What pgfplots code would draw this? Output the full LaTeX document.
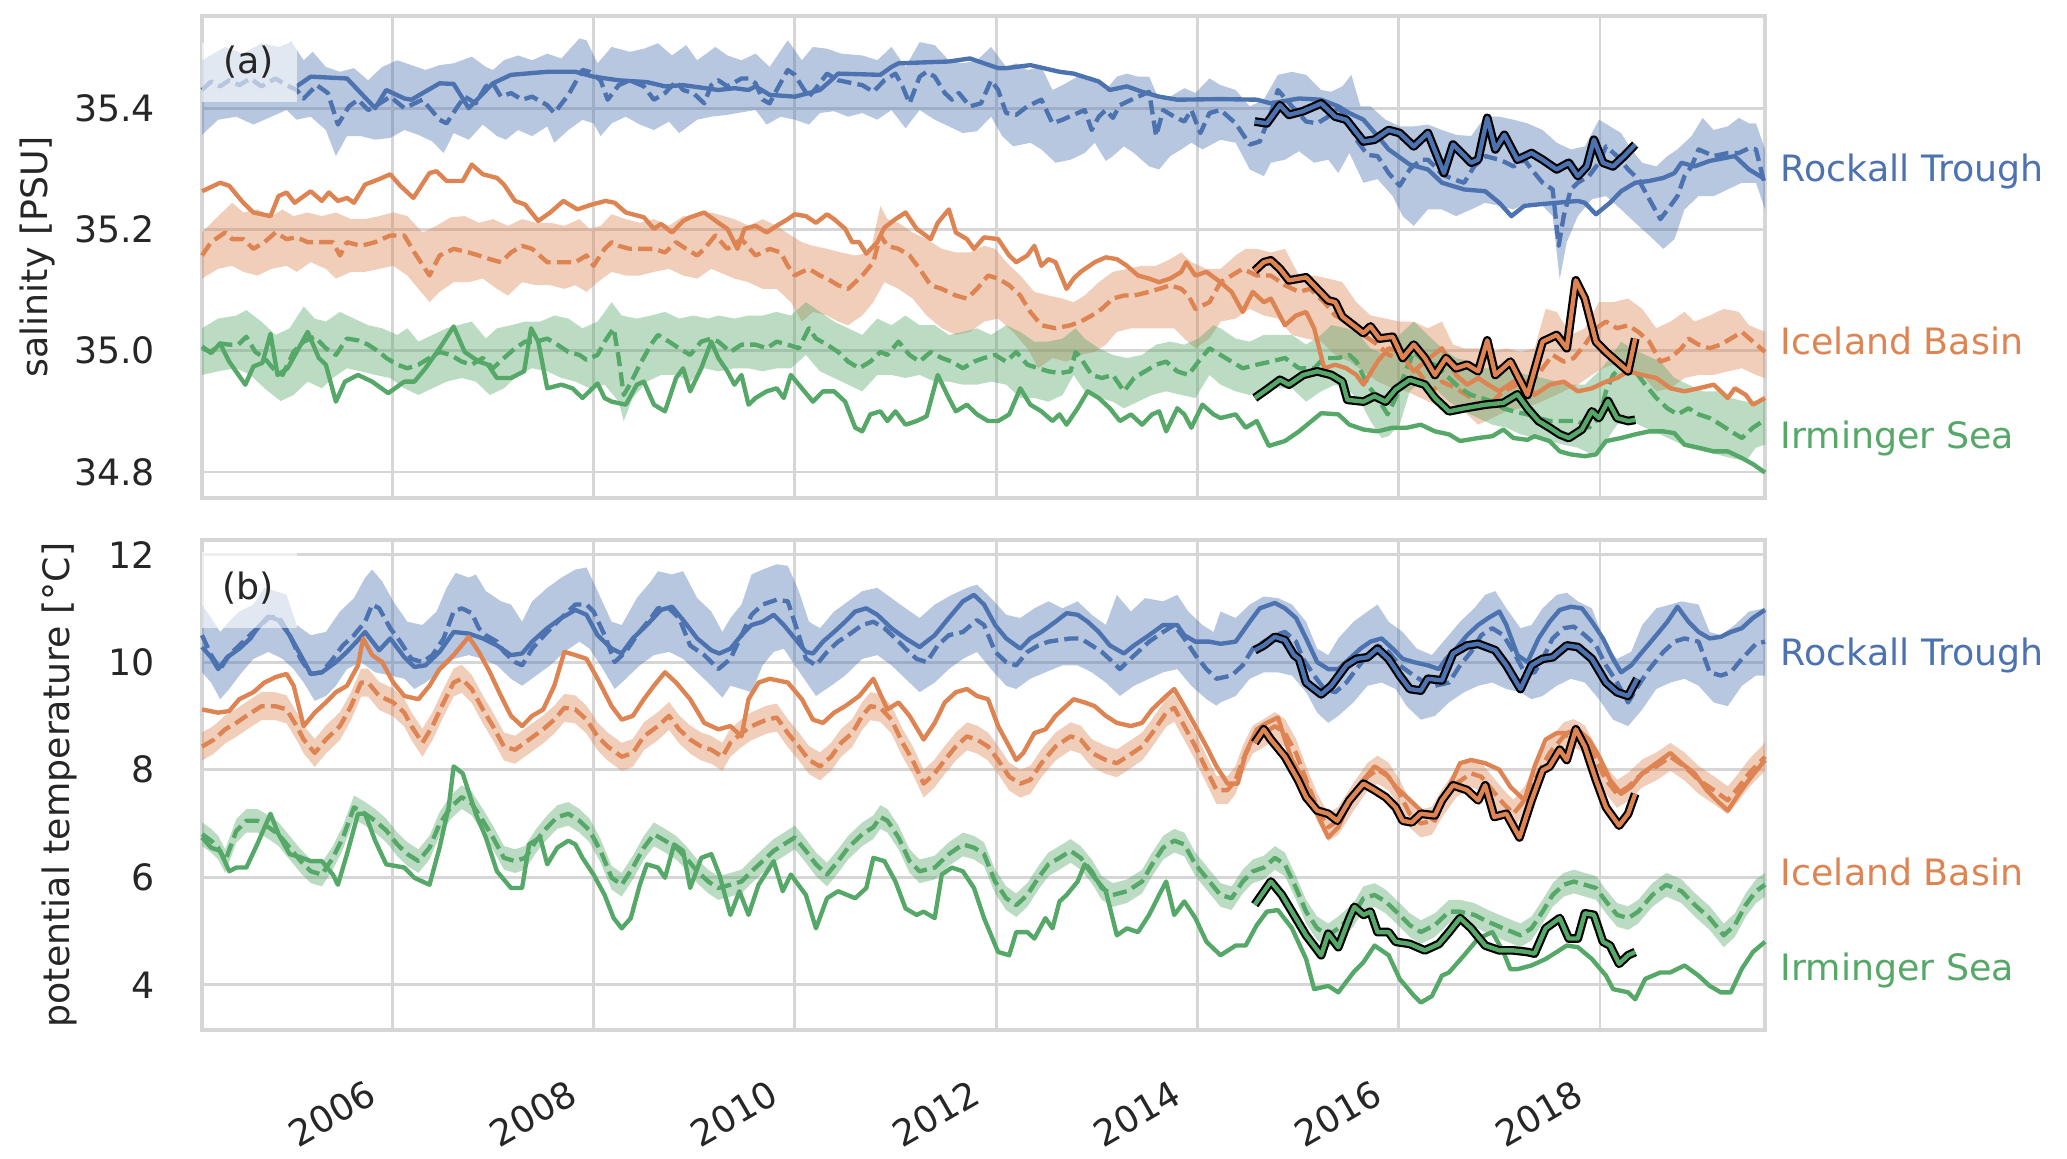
\documentclass[border=0pt]{standalone}
\usepackage{fontspec}
\setmainfont{DejaVu Sans}
\usepackage{pgfplots}
\usepackage{pgfplotstable}
\pgfplotsset{compat=1.18}

\definecolor{cb}{HTML}{4C72B0}
\definecolor{co}{HTML}{DD8452}
\definecolor{cg}{HTML}{55A868}
\definecolor{gridc}{HTML}{D6D6D6}
\definecolor{txt}{HTML}{262626}

% black-outlined segments (2014.6-2018.4)
\pgfplotstableread{
x y
2014.57 35.378
2014.69 35.375
2014.82 35.405
2014.91 35.389
2015.05 35.395
2015.23 35.408
2015.37 35.386
2015.48 35.381
2015.65 35.345
2015.76 35.348
2015.90 35.364
2016.01 35.359
2016.15 35.337
2016.29 35.359
2016.45 35.293
2016.54 35.340
2016.72 35.310
2016.79 35.315
2016.88 35.384
2016.96 35.332
2017.05 35.356
2017.18 35.315
2017.32 35.326
2017.43 35.315
2017.57 35.299
2017.69 35.310
2017.78 35.288
2017.87 35.304
2017.94 35.348
2018.03 35.310
2018.13 35.304
2018.24 35.321
2018.35 35.340
}\rtSblack
\pgfplotstableread{
x y
2014.57 35.132
2014.66 35.146
2014.73 35.149
2014.82 35.135
2014.91 35.116
2015.08 35.121
2015.19 35.102
2015.30 35.083
2015.37 35.080
2015.44 35.056
2015.55 35.042
2015.65 35.029
2015.72 35.040
2015.81 35.020
2015.94 35.023
2016.04 34.988
2016.15 35.010
2016.26 34.988
2016.36 34.960
2016.47 34.988
2016.57 34.971
2016.68 34.977
2016.79 34.966
2016.88 35.017
2016.96 34.960
2017.11 34.982
2017.28 34.927
2017.43 35.015
2017.57 35.026
2017.67 35.004
2017.76 35.116
2017.85 35.086
2017.96 35.015
2018.06 34.998
2018.17 34.982
2018.28 34.966
2018.35 35.020
}\ibSblack
\pgfplotstableread{
x y
2014.57 34.922
2014.69 34.936
2014.82 34.952
2014.91 34.944
2015.05 34.960
2015.19 34.966
2015.33 34.960
2015.44 34.949
2015.49 34.919
2015.65 34.916
2015.76 34.925
2015.87 34.916
2015.97 34.936
2016.11 34.952
2016.26 34.944
2016.36 34.922
2016.50 34.900
2016.65 34.905
2016.86 34.911
2017.04 34.914
2017.18 34.928
2017.28 34.905
2017.39 34.884
2017.50 34.873
2017.60 34.862
2017.69 34.856
2017.82 34.870
2017.92 34.900
2017.99 34.889
2018.08 34.917
2018.17 34.889
2018.28 34.884
2018.35 34.886
}\isSblack
\pgfplotstableread{
x y
2014.57 10.22
2014.66 10.31
2014.77 10.47
2014.87 10.41
2014.96 10.13
2015.01 10.06
2015.08 9.62
2015.23 9.40
2015.33 9.56
2015.48 9.94
2015.58 10.06
2015.69 10.09
2015.79 10.25
2015.90 10.06
2016.01 9.75
2016.11 9.50
2016.22 9.47
2016.29 9.69
2016.43 9.66
2016.54 10.16
2016.68 10.31
2016.79 10.34
2016.96 10.22
2017.07 9.94
2017.21 9.50
2017.32 9.94
2017.43 10.06
2017.53 10.09
2017.67 10.31
2017.78 10.28
2017.92 10.06
2018.06 9.62
2018.17 9.44
2018.28 9.37
2018.37 9.69
}\rtTblack
\pgfplotstableread{
x y
2014.57 8.50
2014.66 8.75
2014.73 8.56
2014.87 8.24
2015.00 7.81
2015.08 7.49
2015.19 7.24
2015.30 7.18
2015.39 7.05
2015.51 7.43
2015.65 7.74
2015.76 7.62
2015.87 7.49
2015.97 7.30
2016.04 7.05
2016.13 7.02
2016.22 7.18
2016.36 7.15
2016.43 7.43
2016.54 7.71
2016.68 7.62
2016.79 7.43
2016.86 7.71
2016.95 7.12
2017.07 7.18
2017.20 6.74
2017.32 7.43
2017.43 7.99
2017.50 8.06
2017.60 8.37
2017.67 8.18
2017.76 8.75
2017.85 8.43
2017.96 7.81
2018.06 7.30
2018.19 6.96
2018.28 7.18
2018.35 7.55
}\ibTblack
\pgfplotstableread{
x y
2014.57 5.49
2014.73 5.92
2014.84 5.67
2014.94 5.36
2015.08 4.92
2015.23 4.55
2015.30 4.95
2015.40 4.70
2015.51 5.24
2015.56 5.45
2015.65 5.30
2015.72 5.36
2015.79 4.98
2015.90 4.98
2015.97 4.80
2016.11 4.76
2016.26 4.64
2016.40 4.76
2016.50 4.98
2016.61 5.24
2016.72 5.05
2016.86 4.73
2017.00 4.64
2017.14 4.64
2017.28 4.61
2017.35 4.58
2017.46 5.05
2017.60 5.24
2017.69 4.86
2017.78 4.86
2017.85 5.33
2017.94 5.30
2018.03 4.80
2018.10 4.73
2018.19 4.39
2018.28 4.55
2018.35 4.61
}\isTblack

\pgfplotsset{
  panel/.style={
    scale only axis, width=15.123cm, anchor=south west,
    xmin=2004.11, xmax=2019.64,
    axis line style={gridc, line width=1.2pt},
    grid=major, major grid style={gridc, line width=0.8pt},
    major tick length=0pt, tick style={draw=none},
    xtick={2006,2008,...,2018},
    tick label style={font=\fontsize{10}{12}\selectfont, text=txt},
    yticklabel style={xshift=-0.33cm},
    /pgf/number format/assume math mode=true,
    /pgf/number format/1000 sep={},
    clip=false,
  },
  sol/.style={line width=1.2pt, line join=round},
  das/.style={line width=1.2pt, line join=round, dash pattern=on 3.9pt off 1.7pt},
  blk/.style={black, line width=2.4pt, line join=round},
  band/.style={draw=none, fill opacity=0.4},
}
\tikzset{side/.style={anchor=west, font=\fontsize{10}{12}\selectfont, xshift=0.03cm},
  lab/.style={rotate=90, text=txt, font=\fontsize{10}{12}\selectfont}}

\begin{document}
\begin{tikzpicture}
\useasboundingbox (0,0) rectangle (20cm,11.214cm);

% ---------------- (a) salinity ----------------
\begin{axis}[panel, at={(1.955cm,6.395cm)}, height=4.664cm,
  ymin=34.757, ymax=35.552, ytick={34.8,35.0,35.2,35.4},
  yticklabel style={/pgf/number format/.cd, fixed, fixed zerofill, precision=1},
  xticklabels={}]

% bands: upper edge left to right, then lower edge right to left
\addplot[band, fill=cb] coordinates {(2004.11,35.479) (2004.34,35.501) (2004.52,35.490) (2004.70,35.507) (2004.87,35.501) (2005.00,35.509) (2005.12,35.479) (2005.21,35.493) (2005.34,35.468) (2005.48,35.460) (2005.62,35.466) (2005.76,35.446) (2005.90,35.468) (2006.05,35.479) (2006.19,35.471) (2006.33,35.463) (2006.47,35.471) (2006.61,35.474) (2006.79,35.485) (2006.93,35.468) (2007.00,35.463) (2007.11,35.479) (2007.25,35.487) (2007.39,35.479) (2007.54,35.490) (2007.68,35.482) (2007.86,35.515) (2007.93,35.512) (2008.04,35.474) (2008.18,35.501) (2008.36,35.493) (2008.50,35.498) (2008.64,35.507) (2008.78,35.487) (2008.92,35.504) (2009.03,35.479) (2009.21,35.501) (2009.33,35.487) (2009.47,35.479) (2009.61,35.490) (2009.75,35.468) (2009.93,35.512) (2010.07,35.479) (2010.18,35.501) (2010.32,35.498) (2010.46,35.490) (2010.67,35.487) (2010.82,35.479) (2010.96,35.501) (2011.10,35.468) (2011.24,35.509) (2011.39,35.504) (2011.53,35.479) (2011.67,35.474) (2011.81,35.479) (2011.95,35.501) (2012.10,35.468) (2012.20,35.474) (2012.31,35.463) (2012.45,35.468) (2012.56,35.430) (2012.66,35.438) (2012.81,35.452) (2012.95,35.452) (2013.09,35.430) (2013.20,35.452) (2013.30,35.457) (2013.41,35.452) (2013.52,35.452) (2013.62,35.414) (2013.73,35.419) (2013.87,35.433) (2013.98,35.425) (2014.12,35.449) (2014.23,35.438) (2014.38,35.430) (2014.52,35.403) (2014.66,35.414) (2014.80,35.455) (2014.94,35.460) (2015.08,35.455) (2015.23,35.430) (2015.33,35.427) (2015.44,35.436) (2015.53,35.455) (2015.62,35.403) (2015.72,35.403) (2015.87,35.381) (2016.01,35.370) (2016.15,35.370) (2016.29,35.373) (2016.43,35.364) (2016.57,35.356) (2016.72,35.354) (2016.86,35.386) (2017.00,35.386) (2017.14,35.381) (2017.28,35.375) (2017.43,35.364) (2017.57,35.343) (2017.71,35.332) (2017.85,35.337) (2017.99,35.381) (2018.10,35.370) (2018.21,35.359) (2018.31,35.332) (2018.42,35.310) (2018.56,35.304) (2018.67,35.321) (2018.77,35.332) (2018.91,35.354) (2019.02,35.384) (2019.13,35.364) (2019.27,35.370) (2019.38,35.384) (2019.48,35.375) (2019.55,35.375) (2019.64,35.332)
 (2019.64,35.233) (2019.55,35.277) (2019.41,35.277) (2019.27,35.266) (2019.13,35.255) (2018.98,35.255) (2018.84,35.233) (2018.74,35.184) (2018.63,35.168) (2018.49,35.190) (2018.35,35.211) (2018.21,35.233) (2018.06,35.255) (2017.92,35.250) (2017.78,35.222) (2017.67,35.179) (2017.60,35.118) (2017.53,35.222) (2017.43,35.239) (2017.28,35.244) (2017.14,35.233) (2017.00,35.239) (2016.86,35.244) (2016.72,35.233) (2016.57,35.222) (2016.43,35.233) (2016.29,35.233) (2016.15,35.206) (2016.04,35.222) (2015.94,35.255) (2015.79,35.283) (2015.65,35.277) (2015.51,35.326) (2015.40,35.293) (2015.30,35.315) (2015.16,35.310) (2015.01,35.329) (2014.87,35.315) (2014.73,35.310) (2014.66,35.288) (2014.52,35.299) (2014.38,35.343) (2014.23,35.348) (2014.05,35.332) (2013.94,35.343) (2013.84,35.332) (2013.73,35.321) (2013.62,35.299) (2013.52,35.304) (2013.37,35.326) (2013.27,35.337) (2013.16,35.321) (2013.09,35.313) (2012.98,35.343) (2012.88,35.326) (2012.74,35.315) (2012.59,35.310) (2012.45,35.332) (2012.34,35.343) (2012.17,35.337) (2012.06,35.354) (2011.95,35.386) (2011.81,35.362) (2011.67,35.359) (2011.53,35.370) (2011.39,35.381) (2011.24,35.397) (2011.10,35.367) (2010.96,35.397) (2010.82,35.381) (2010.67,35.392) (2010.53,35.386) (2010.39,35.395) (2010.25,35.392) (2010.14,35.373) (2010.00,35.381) (2009.86,35.386) (2009.72,35.373) (2009.61,35.397) (2009.43,35.392) (2009.33,35.389) (2009.17,35.386) (2009.03,35.381) (2008.85,35.359) (2008.75,35.378) (2008.60,35.364) (2008.46,35.373) (2008.32,35.386) (2008.18,35.375) (2008.07,35.354) (2008.00,35.375) (2007.89,35.381) (2007.75,35.364) (2007.61,35.343) (2007.54,35.370) (2007.39,35.354) (2007.25,35.364) (2007.13,35.348) (2007.04,35.354) (2006.90,35.373) (2006.76,35.348) (2006.61,35.359) (2006.51,35.326) (2006.40,35.345) (2006.26,35.356) (2006.12,35.364) (2005.98,35.351) (2005.83,35.348) (2005.69,35.354) (2005.55,35.354) (2005.44,35.321) (2005.34,35.364) (2005.19,35.386) (2005.05,35.381) (2004.95,35.397) (2004.80,35.386) (2004.62,35.373) (2004.45,35.386) (2004.27,35.381) (2004.11,35.356)};
\addplot[band, fill=co] coordinates {(2004.11,35.195) (2004.27,35.222) (2004.41,35.244) (2004.52,35.228) (2004.66,35.233) (2004.80,35.222) (2004.91,35.233) (2005.02,35.222) (2005.16,35.228) (2005.30,35.222) (2005.44,35.228) (2005.59,35.217) (2005.73,35.217) (2005.87,35.222) (2006.01,35.228) (2006.15,35.222) (2006.30,35.195) (2006.44,35.206) (2006.58,35.220) (2006.72,35.222) (2006.86,35.211) (2007.00,35.217) (2007.15,35.206) (2007.29,35.217) (2007.43,35.211) (2007.57,35.211) (2007.71,35.206) (2007.86,35.217) (2007.96,35.201) (2008.07,35.206) (2008.18,35.225) (2008.32,35.217) (2008.46,35.211) (2008.60,35.217) (2008.75,35.206) (2008.89,35.222) (2009.03,35.222) (2009.17,35.228) (2009.40,35.217) (2009.54,35.206) (2009.68,35.217) (2009.82,35.206) (2009.96,35.190) (2010.07,35.179) (2010.18,35.173) (2010.32,35.168) (2010.46,35.162) (2010.60,35.157) (2010.75,35.162) (2010.85,35.239) (2010.92,35.217) (2011.03,35.211) (2011.17,35.195) (2011.31,35.184) (2011.46,35.168) (2011.60,35.162) (2011.74,35.162) (2011.88,35.173) (2011.99,35.168) (2012.10,35.146) (2012.24,35.124) (2012.38,35.097) (2012.52,35.091) (2012.66,35.086) (2012.77,35.080) (2012.88,35.091) (2013.02,35.113) (2013.16,35.130) (2013.30,35.135) (2013.45,35.140) (2013.59,35.140) (2013.73,35.151) (2013.84,35.162) (2013.94,35.146) (2014.09,35.135) (2014.23,35.135) (2014.38,35.157) (2014.48,35.168) (2014.59,35.168) (2014.73,35.162) (2014.87,35.168) (2015.01,35.124) (2015.16,35.124) (2015.30,35.119) (2015.44,35.113) (2015.58,35.080) (2015.72,35.058) (2015.87,35.053) (2016.01,35.048) (2016.15,35.048) (2016.29,35.037) (2016.43,35.048) (2016.54,35.010) (2016.65,35.004) (2016.79,35.004) (2016.93,34.998) (2017.07,35.004) (2017.21,34.998) (2017.35,35.004) (2017.46,35.069) (2017.57,35.064) (2017.71,35.026) (2017.85,35.037) (2017.99,35.080) (2018.13,35.080) (2018.28,35.086) (2018.42,35.069) (2018.56,35.037) (2018.70,35.048) (2018.84,35.064) (2018.94,35.048) (2019.09,35.058) (2019.23,35.069) (2019.38,35.064) (2019.48,35.042) (2019.64,35.031)
 (2019.64,34.955) (2019.55,34.960) (2019.41,34.971) (2019.27,34.966) (2019.13,34.960) (2018.98,34.960) (2018.84,34.955) (2018.70,34.938) (2018.56,34.933) (2018.42,34.960) (2018.28,34.971) (2018.13,34.977) (2018.03,34.971) (2017.92,34.960) (2017.78,34.944) (2017.64,34.933) (2017.50,34.922) (2017.35,34.911) (2017.21,34.905) (2017.07,34.900) (2016.93,34.889) (2016.79,34.878) (2016.65,34.900) (2016.50,34.905) (2016.36,34.911) (2016.22,34.922) (2016.08,34.933) (2015.94,34.938) (2015.79,34.949) (2015.65,34.966) (2015.51,34.982) (2015.37,34.993) (2015.23,35.015) (2015.08,35.020) (2014.94,35.026) (2014.80,35.053) (2014.66,35.058) (2014.52,35.069) (2014.38,35.053) (2014.23,35.048) (2014.12,35.020) (2013.98,35.004) (2013.87,35.020) (2013.77,35.037) (2013.62,35.037) (2013.48,35.037) (2013.34,35.037) (2013.20,35.031) (2013.09,35.010) (2012.98,34.998) (2012.84,34.993) (2012.70,34.982) (2012.56,34.988) (2012.42,34.971) (2012.31,35.004) (2012.17,35.031) (2012.02,35.053) (2011.88,35.048) (2011.74,35.031) (2011.60,35.026) (2011.46,35.037) (2011.31,35.058) (2011.17,35.086) (2011.03,35.102) (2010.89,35.113) (2010.78,35.080) (2010.67,35.058) (2010.53,35.042) (2010.43,35.048) (2010.32,35.058) (2010.18,35.064) (2010.07,35.048) (2009.96,35.080) (2009.82,35.102) (2009.68,35.102) (2009.54,35.113) (2009.40,35.119) (2009.17,35.135) (2009.03,35.119) (2008.89,35.124) (2008.75,35.135) (2008.60,35.130) (2008.46,35.124) (2008.32,35.124) (2008.18,35.130) (2008.04,35.113) (2007.93,35.097) (2007.82,35.108) (2007.71,35.102) (2007.57,35.108) (2007.43,35.108) (2007.29,35.113) (2007.15,35.091) (2007.04,35.102) (2006.90,35.119) (2006.76,35.113) (2006.61,35.113) (2006.47,35.097) (2006.37,35.080) (2006.26,35.102) (2006.15,35.124) (2006.01,35.140) (2005.87,35.135) (2005.73,35.130) (2005.59,35.130) (2005.44,35.119) (2005.34,35.135) (2005.19,35.146) (2005.05,35.130) (2004.95,35.140) (2004.80,35.135) (2004.66,35.124) (2004.52,35.130) (2004.41,35.140) (2004.27,35.135) (2004.11,35.119)};
\addplot[band, fill=cg] coordinates {(2004.11,35.037) (2004.27,35.053) (2004.45,35.058) (2004.55,35.067) (2004.70,35.048) (2004.84,35.026) (2004.98,35.037) (2005.12,35.073) (2005.23,35.053) (2005.34,35.048) (2005.48,35.064) (2005.62,35.053) (2005.76,35.042) (2005.90,35.037) (2006.05,35.026) (2006.15,35.037) (2006.26,35.015) (2006.40,35.026) (2006.54,35.037) (2006.65,35.042) (2006.79,35.048) (2006.93,35.020) (2007.04,35.037) (2007.18,35.042) (2007.32,35.048) (2007.47,35.048) (2007.61,35.058) (2007.75,35.053) (2007.89,35.037) (2008.04,35.048) (2008.18,35.080) (2008.28,35.058) (2008.43,35.053) (2008.57,35.058) (2008.71,35.064) (2008.85,35.053) (2008.99,35.058) (2009.14,35.053) (2009.24,35.058) (2009.40,35.053) (2009.54,35.058) (2009.68,35.058) (2009.82,35.064) (2009.96,35.058) (2010.11,35.080) (2010.25,35.064) (2010.39,35.048) (2010.53,35.037) (2010.67,35.026) (2010.82,35.053) (2010.96,35.042) (2011.10,35.058) (2011.24,35.042) (2011.39,35.042) (2011.53,35.026) (2011.67,35.031) (2011.81,35.037) (2011.95,35.026) (2012.10,35.042) (2012.24,35.031) (2012.38,35.015) (2012.52,35.015) (2012.66,35.020) (2012.79,35.037) (2012.88,35.020) (2013.02,35.004) (2013.16,34.993) (2013.30,34.988) (2013.45,34.993) (2013.59,35.010) (2013.73,35.015) (2013.87,35.010) (2014.01,35.020) (2014.16,35.042) (2014.23,35.037) (2014.38,35.020) (2014.52,35.015) (2014.66,35.026) (2014.80,35.026) (2014.94,35.026) (2015.08,35.010) (2015.23,35.026) (2015.33,35.042) (2015.48,35.037) (2015.58,35.031) (2015.72,35.004) (2015.87,34.993) (2016.01,35.026) (2016.15,35.048) (2016.29,35.026) (2016.43,35.004) (2016.57,34.988) (2016.72,34.982) (2016.86,34.971) (2017.00,34.971) (2017.14,34.966) (2017.28,34.960) (2017.43,34.955) (2017.57,34.949) (2017.71,34.944) (2017.85,34.944) (2017.99,34.966) (2018.10,34.988) (2018.21,35.015) (2018.31,35.004) (2018.45,34.993) (2018.60,34.982) (2018.74,34.955) (2018.88,34.944) (2019.02,34.933) (2019.16,34.933) (2019.30,34.922) (2019.45,34.916) (2019.55,34.916) (2019.64,34.922)
 (2019.64,34.845) (2019.55,34.840) (2019.45,34.818) (2019.30,34.823) (2019.16,34.829) (2019.02,34.834) (2018.88,34.840) (2018.74,34.851) (2018.60,34.862) (2018.45,34.873) (2018.31,34.884) (2018.17,34.878) (2018.06,34.851) (2017.92,34.829) (2017.78,34.840) (2017.64,34.845) (2017.50,34.851) (2017.35,34.856) (2017.21,34.862) (2017.07,34.873) (2016.93,34.878) (2016.79,34.889) (2016.65,34.900) (2016.50,34.916) (2016.36,34.938) (2016.22,34.949) (2016.11,34.933) (2016.01,34.878) (2015.90,34.859) (2015.83,34.856) (2015.72,34.884) (2015.62,34.916) (2015.51,34.933) (2015.37,34.944) (2015.23,34.933) (2015.08,34.916) (2014.94,34.938) (2014.80,34.938) (2014.66,34.938) (2014.52,34.927) (2014.38,34.933) (2014.23,34.944) (2014.12,34.960) (2013.98,34.922) (2013.84,34.927) (2013.69,34.933) (2013.55,34.927) (2013.41,34.916) (2013.27,34.905) (2013.16,34.916) (2013.02,34.922) (2012.88,34.933) (2012.77,34.960) (2012.66,34.927) (2012.52,34.916) (2012.38,34.922) (2012.24,34.922) (2012.10,34.944) (2011.95,34.949) (2011.81,34.944) (2011.67,34.944) (2011.53,34.949) (2011.39,34.949) (2011.24,34.960) (2011.10,34.955) (2010.96,34.960) (2010.82,34.960) (2010.67,34.933) (2010.53,34.944) (2010.39,34.955) (2010.25,34.966) (2010.11,34.993) (2009.96,34.971) (2009.82,34.971) (2009.68,34.966) (2009.54,34.971) (2009.40,34.971) (2009.24,34.966) (2009.10,34.971) (2008.96,34.949) (2008.82,34.960) (2008.67,34.960) (2008.53,34.949) (2008.39,34.922) (2008.30,34.884) (2008.25,34.916) (2008.11,34.944) (2007.96,34.938) (2007.82,34.949) (2007.68,34.955) (2007.54,34.966) (2007.39,34.971) (2007.25,34.960) (2007.11,34.938) (2006.97,34.927) (2006.83,34.949) (2006.69,34.955) (2006.54,34.949) (2006.40,34.938) (2006.26,34.927) (2006.12,34.938) (2005.98,34.955) (2005.83,34.960) (2005.69,34.966) (2005.55,34.971) (2005.41,34.955) (2005.30,34.938) (2005.16,34.949) (2005.02,34.927) (2004.89,34.917) (2004.73,34.938) (2004.59,34.960) (2004.45,34.971) (2004.27,34.966) (2004.11,34.960)};

% dashed lines
\addplot[das, cb] coordinates {(2004.11,35.430) (2004.20,35.444) (2004.29,35.436) (2004.38,35.446) (2004.48,35.438) (2004.59,35.449) (2004.70,35.436) (2004.84,35.449) (2004.95,35.438) (2005.05,35.430) (2005.12,35.416) (2005.25,35.438) (2005.36,35.425) (2005.46,35.373) (2005.57,35.403) (2005.66,35.414) (2005.76,35.397) (2005.83,35.403) (2005.98,35.419) (2006.12,35.400) (2006.30,35.414) (2006.47,35.381) (2006.54,35.375) (2006.65,35.403) (2006.72,35.419) (2006.83,35.408) (2006.93,35.436) (2007.00,35.441) (2007.08,35.419) (2007.18,35.425) (2007.29,35.414) (2007.39,35.419) (2007.54,35.405) (2007.61,35.392) (2007.75,35.422) (2007.89,35.463) (2007.96,35.460) (2008.07,35.446) (2008.14,35.414) (2008.25,35.438) (2008.36,35.446) (2008.50,35.436) (2008.60,35.414) (2008.71,35.425) (2008.82,35.444) (2008.89,35.430) (2008.99,35.425) (2009.10,35.408) (2009.17,35.438) (2009.24,35.446) (2009.33,35.436) (2009.47,35.449) (2009.54,35.449) (2009.61,35.441) (2009.68,35.414) (2009.75,35.408) (2009.82,35.430) (2009.93,35.463) (2010.00,35.455) (2010.07,35.436) (2010.14,35.419) (2010.21,35.433) (2010.32,35.457) (2010.43,35.446) (2010.67,35.438) (2010.78,35.427) (2010.89,35.446) (2011.00,35.457) (2011.07,35.436) (2011.14,35.408) (2011.24,35.452) (2011.31,35.460) (2011.39,35.452) (2011.49,35.425) (2011.56,35.414) (2011.63,35.425) (2011.74,35.403) (2011.85,35.408) (2011.95,35.446) (2012.02,35.430) (2012.10,35.392) (2012.20,35.389) (2012.31,35.403) (2012.45,35.414) (2012.56,35.375) (2012.66,35.381) (2012.77,35.389) (2012.88,35.397) (2012.95,35.364) (2013.02,35.386) (2013.09,35.397) (2013.16,35.384) (2013.23,35.405) (2013.37,35.416) (2013.52,35.427) (2013.59,35.354) (2013.66,35.397) (2013.77,35.386) (2013.87,35.378) (2013.94,35.397) (2014.03,35.359) (2014.12,35.392) (2014.23,35.397) (2014.38,35.375) (2014.52,35.340) (2014.62,35.345) (2014.73,35.392) (2014.80,35.430) (2014.94,35.403) (2015.08,35.378) (2015.19,35.375) (2015.30,35.386) (2015.40,35.400) (2015.48,35.386) (2015.58,35.348) (2015.69,35.323) (2015.79,35.321) (2015.90,35.293) (2016.01,35.272) (2016.11,35.299) (2016.22,35.315) (2016.29,35.315) (2016.36,35.304) (2016.43,35.291) (2016.54,35.283) (2016.65,35.277) (2016.75,35.304) (2016.86,35.321) (2017.00,35.315) (2017.07,35.310) (2017.14,35.304) (2017.25,35.315) (2017.32,35.299) (2017.43,35.277) (2017.53,35.266) (2017.59,35.173) (2017.64,35.222) (2017.71,35.266) (2017.78,35.277) (2017.89,35.288) (2017.99,35.310) (2018.06,35.337) (2018.17,35.321) (2018.28,35.299) (2018.38,35.283) (2018.49,35.250) (2018.60,35.217) (2018.70,35.239) (2018.77,35.255) (2018.84,35.288) (2018.91,35.304) (2018.98,35.332) (2019.13,35.321) (2019.27,35.326) (2019.38,35.326) (2019.48,35.334) (2019.55,35.332) (2019.64,35.272)};
\addplot[das, co] coordinates {(2004.11,35.157) (2004.20,35.179) (2004.34,35.195) (2004.41,35.184) (2004.52,35.184) (2004.62,35.168) (2004.73,35.179) (2004.84,35.195) (2004.95,35.184) (2005.05,35.187) (2005.16,35.179) (2005.27,35.179) (2005.41,35.179) (2005.48,35.157) (2005.55,35.179) (2005.69,35.173) (2005.83,35.179) (2005.98,35.190) (2006.12,35.190) (2006.22,35.162) (2006.37,35.124) (2006.47,35.157) (2006.61,35.168) (2006.76,35.162) (2006.86,35.157) (2006.97,35.151) (2007.08,35.146) (2007.18,35.162) (2007.29,35.173) (2007.39,35.168) (2007.54,35.146) (2007.68,35.146) (2007.82,35.146) (2007.93,35.157) (2008.00,35.140) (2008.11,35.168) (2008.18,35.179) (2008.25,35.173) (2008.36,35.168) (2008.50,35.168) (2008.60,35.168) (2008.71,35.162) (2008.82,35.179) (2008.92,35.168) (2009.03,35.157) (2009.10,35.168) (2009.21,35.190) (2009.33,35.168) (2009.47,35.184) (2009.61,35.157) (2009.75,35.168) (2009.86,35.162) (2009.93,35.140) (2010.00,35.124) (2010.07,35.130) (2010.14,35.135) (2010.25,35.124) (2010.32,35.119) (2010.43,35.108) (2010.53,35.102) (2010.67,35.124) (2010.78,35.146) (2010.85,35.190) (2010.92,35.173) (2011.03,35.168) (2011.14,35.157) (2011.24,35.135) (2011.35,35.108) (2011.46,35.102) (2011.60,35.091) (2011.71,35.086) (2011.81,35.102) (2011.92,35.124) (2012.02,35.119) (2012.13,35.108) (2012.24,35.091) (2012.34,35.064) (2012.45,35.042) (2012.59,35.037) (2012.74,35.042) (2012.84,35.048) (2012.95,35.058) (2013.05,35.069) (2013.16,35.086) (2013.27,35.091) (2013.37,35.091) (2013.52,35.097) (2013.62,35.102) (2013.73,35.108) (2013.84,35.102) (2013.91,35.091) (2013.98,35.069) (2014.12,35.080) (2014.23,35.113) (2014.34,35.124) (2014.45,35.135) (2014.59,35.124) (2014.73,35.124) (2014.87,35.108) (2015.01,35.097) (2015.12,35.102) (2015.26,35.080) (2015.37,35.058) (2015.51,35.047) (2015.65,35.026) (2015.79,35.010) (2015.90,34.993) (2016.01,34.988) (2016.11,34.982) (2016.22,34.960) (2016.33,34.933) (2016.43,34.949) (2016.57,34.938) (2016.72,34.922) (2016.82,34.905) (2016.93,34.916) (2017.04,34.933) (2017.18,34.944) (2017.32,34.949) (2017.43,34.971) (2017.53,34.993) (2017.64,34.982) (2017.74,34.988) (2017.85,35.010) (2017.96,35.037) (2018.06,35.048) (2018.17,35.037) (2018.28,35.042) (2018.38,35.031) (2018.49,35.015) (2018.60,34.982) (2018.70,34.988) (2018.81,35.004) (2018.88,35.020) (2018.98,35.010) (2019.09,35.004) (2019.20,35.010) (2019.30,35.020) (2019.41,35.031) (2019.52,35.015) (2019.64,34.998)};
\addplot[das, cg] coordinates {(2004.11,35.004) (2004.20,34.998) (2004.29,35.012) (2004.38,35.010) (2004.47,35.010) (2004.55,35.023) (2004.64,34.998) (2004.73,34.988) (2004.84,34.966) (2004.91,34.960) (2005.02,34.998) (2005.12,35.015) (2005.23,35.023) (2005.34,35.004) (2005.44,34.993) (2005.55,35.020) (2005.66,35.017) (2005.76,35.010) (2005.87,34.998) (2005.94,34.988) (2006.05,34.977) (2006.15,34.971) (2006.26,34.977) (2006.37,34.988) (2006.47,34.998) (2006.58,34.993) (2006.69,34.982) (2006.79,34.977) (2006.90,34.988) (2007.00,34.971) (2007.11,34.988) (2007.22,35.004) (2007.32,35.015) (2007.43,35.015) (2007.54,35.020) (2007.64,35.010) (2007.75,34.998) (2007.86,34.993) (2007.93,34.985) (2008.04,34.993) (2008.11,35.015) (2008.20,35.037) (2008.25,34.988) (2008.30,34.927) (2008.36,34.944) (2008.46,34.977) (2008.57,35.010) (2008.64,35.026) (2008.75,35.015) (2008.85,35.004) (2008.96,34.993) (2009.07,35.015) (2009.17,35.020) (2009.24,35.015) (2009.36,34.998) (2009.47,35.010) (2009.61,35.010) (2009.72,35.004) (2009.82,35.015) (2009.93,35.010) (2010.04,35.004) (2010.14,35.037) (2010.21,35.020) (2010.32,35.010) (2010.43,34.998) (2010.53,34.982) (2010.64,34.971) (2010.75,34.982) (2010.85,34.998) (2010.92,34.993) (2011.03,35.015) (2011.14,34.993) (2011.24,34.982) (2011.35,34.998) (2011.46,34.988) (2011.56,34.982) (2011.67,34.971) (2011.78,34.982) (2011.88,34.988) (2011.99,34.993) (2012.10,34.982) (2012.20,34.998) (2012.31,34.977) (2012.42,34.971) (2012.52,34.966) (2012.63,34.963) (2012.74,34.966) (2012.79,34.998) (2012.84,34.988) (2012.95,34.960) (2013.05,34.955) (2013.16,34.960) (2013.27,34.933) (2013.37,34.955) (2013.48,34.966) (2013.59,34.977) (2013.69,34.982) (2013.80,34.966) (2013.91,34.960) (2014.01,34.982) (2014.12,35.004) (2014.23,34.993) (2014.34,34.982) (2014.45,34.971) (2014.59,34.977) (2014.73,34.982) (2014.87,34.988) (2015.01,34.971) (2015.16,34.971) (2015.26,34.988) (2015.40,34.988) (2015.51,34.993) (2015.58,34.982) (2015.69,34.944) (2015.79,34.922) (2015.89,34.895) (2015.97,34.922) (2016.08,34.971) (2016.15,34.998) (2016.26,34.982) (2016.36,34.977) (2016.50,34.955) (2016.61,34.938) (2016.72,34.927) (2016.82,34.922) (2016.93,34.916) (2017.04,34.905) (2017.14,34.900) (2017.28,34.895) (2017.39,34.889) (2017.50,34.884) (2017.64,34.884) (2017.78,34.884) (2017.89,34.873) (2017.99,34.889) (2018.06,34.933) (2018.13,34.960) (2018.24,34.977) (2018.35,34.966) (2018.45,34.944) (2018.56,34.922) (2018.67,34.905) (2018.77,34.895) (2018.88,34.905) (2018.98,34.895) (2019.09,34.889) (2019.20,34.878) (2019.30,34.867) (2019.41,34.856) (2019.52,34.873) (2019.64,34.886)};

% solid lines
\addplot[sol, cb] coordinates {(2005.05,35.436) (2005.19,35.452) (2005.55,35.449) (2005.83,35.400) (2005.94,35.430) (2006.12,35.416) (2006.19,35.414) (2006.47,35.441) (2006.61,35.440) (2006.76,35.400) (2007.00,35.441) (2007.18,35.455) (2007.54,35.460) (2007.82,35.460) (2008.00,35.452) (2008.25,35.446) (2008.53,35.443) (2008.71,35.436) (2008.89,35.438) (2009.24,35.430) (2009.40,35.433) (2009.54,35.430) (2009.61,35.436) (2009.75,35.422) (2010.00,35.419) (2010.14,35.425) (2010.25,35.430) (2010.36,35.446) (2010.43,35.457) (2010.85,35.455) (2010.96,35.468) (2011.03,35.474) (2011.53,35.477) (2011.74,35.482) (2011.88,35.474) (2012.02,35.466) (2012.10,35.466) (2012.34,35.471) (2012.63,35.460) (2012.77,35.457) (2013.02,35.444) (2013.13,35.430) (2013.30,35.436) (2013.45,35.427) (2013.62,35.419) (2013.80,35.414) (2014.23,35.415) (2014.59,35.414) (2014.73,35.408) (2015.01,35.416) (2015.23,35.414) (2015.40,35.403) (2015.51,35.392) (2015.65,35.381) (2015.79,35.354) (2015.90,35.332) (2016.11,35.307) (2016.29,35.299) (2016.43,35.277) (2016.65,35.266) (2016.86,35.263) (2017.00,35.244) (2017.12,35.222) (2017.25,35.239) (2017.43,35.242) (2017.78,35.247) (2017.85,35.244) (2017.96,35.225) (2018.10,35.244) (2018.21,35.263) (2018.35,35.277) (2018.49,35.280) (2018.63,35.285) (2018.74,35.293) (2018.81,35.310) (2018.94,35.304) (2019.09,35.313) (2019.34,35.321) (2019.48,35.299) (2019.62,35.285)};
\addplot[sol, co] coordinates {(2004.11,35.263) (2004.29,35.277) (2004.38,35.272) (2004.52,35.244) (2004.62,35.228) (2004.79,35.222) (2004.87,35.255) (2004.95,35.261) (2005.03,35.244) (2005.19,35.263) (2005.30,35.247) (2005.37,35.261) (2005.46,35.247) (2005.55,35.252) (2005.62,35.244) (2005.73,35.274) (2005.87,35.283) (2005.98,35.291) (2006.08,35.272) (2006.21,35.252) (2006.37,35.293) (2006.44,35.296) (2006.54,35.280) (2006.70,35.280) (2006.79,35.307) (2006.90,35.291) (2007.04,35.285) (2007.11,35.274) (2007.22,35.247) (2007.32,35.241) (2007.45,35.214) (2007.57,35.228) (2007.70,35.247) (2007.84,35.233) (2007.98,35.241) (2008.12,35.247) (2008.21,35.244) (2008.32,35.228) (2008.50,35.220) (2008.60,35.201) (2008.67,35.209) (2008.78,35.195) (2008.89,35.214) (2008.96,35.220) (2009.10,35.228) (2009.24,35.211) (2009.33,35.201) (2009.43,35.168) (2009.50,35.201) (2009.61,35.206) (2009.72,35.195) (2009.82,35.206) (2009.93,35.217) (2010.00,35.225) (2010.11,35.222) (2010.21,35.211) (2010.32,35.225) (2010.39,35.217) (2010.50,35.201) (2010.57,35.179) (2010.64,35.179) (2010.71,35.160) (2010.82,35.179) (2010.89,35.203) (2011.00,35.217) (2011.10,35.228) (2011.21,35.201) (2011.35,35.184) (2011.42,35.211) (2011.53,35.233) (2011.60,35.195) (2011.71,35.184) (2011.78,35.168) (2011.88,35.187) (2012.02,35.184) (2012.13,35.157) (2012.20,35.146) (2012.31,35.157) (2012.38,35.173) (2012.45,35.140) (2012.52,35.151) (2012.59,35.146) (2012.70,35.102) (2012.77,35.119) (2012.84,35.130) (2012.98,35.146) (2013.09,35.154) (2013.20,35.151) (2013.30,35.140) (2013.41,35.124) (2013.52,35.119) (2013.62,35.113) (2013.73,35.119) (2013.84,35.130) (2013.89,35.146) (2013.98,35.124) (2014.09,35.130) (2014.23,35.113) (2014.34,35.097) (2014.45,35.064) (2014.55,35.097) (2014.66,35.080) (2014.73,35.086) (2014.87,35.042) (2014.98,35.058) (2015.08,35.064) (2015.16,35.037) (2015.26,34.971) (2015.37,34.977) (2015.48,34.971) (2015.58,34.960) (2015.65,34.944) (2015.79,34.982) (2015.90,35.004) (2016.01,34.998) (2016.08,34.982) (2016.15,34.966) (2016.26,34.982) (2016.43,35.004) (2016.57,34.960) (2016.68,34.944) (2016.79,34.955) (2016.89,34.944) (2017.00,34.933) (2017.14,34.949) (2017.28,34.949) (2017.35,34.927) (2017.50,34.944) (2017.64,34.949) (2017.78,34.933) (2017.92,34.938) (2018.06,34.949) (2018.17,34.955) (2018.28,34.966) (2018.42,34.960) (2018.56,34.955) (2018.70,34.938) (2018.84,34.933) (2018.98,34.938) (2019.13,34.944) (2019.27,34.922) (2019.34,34.938) (2019.45,34.927) (2019.52,34.911) (2019.64,34.922)};
\addplot[sol, cg] coordinates {(2004.11,35.007) (2004.20,34.996) (2004.29,35.012) (2004.38,34.982) (2004.54,34.944) (2004.62,34.974) (2004.71,34.980) (2004.79,35.028) (2004.86,34.960) (2004.96,34.971) (2005.05,34.998) (2005.16,35.031) (2005.27,34.988) (2005.34,34.977) (2005.44,34.916) (2005.53,34.949) (2005.66,34.960) (2005.80,34.949) (2005.96,34.930) (2006.12,34.949) (2006.22,34.949) (2006.33,34.971) (2006.47,35.004) (2006.61,35.040) (2006.72,34.998) (2006.86,34.982) (2006.95,34.977) (2007.04,34.955) (2007.18,34.955) (2007.31,34.966) (2007.38,35.037) (2007.45,35.015) (2007.54,34.938) (2007.68,34.944) (2007.79,34.938) (2007.89,34.922) (2008.04,34.946) (2008.11,34.922) (2008.18,34.916) (2008.32,34.911) (2008.43,34.944) (2008.50,34.949) (2008.60,34.911) (2008.71,34.900) (2008.82,34.955) (2008.89,34.971) (2008.96,34.933) (2009.07,34.971) (2009.17,35.015) (2009.24,34.988) (2009.33,34.966) (2009.40,34.944) (2009.47,34.960) (2009.54,34.911) (2009.61,34.922) (2009.72,34.933) (2009.82,34.938) (2009.89,34.922) (2009.96,34.960) (2010.07,34.938) (2010.18,34.916) (2010.28,34.933) (2010.39,34.933) (2010.50,34.916) (2010.60,34.873) (2010.67,34.867) (2010.75,34.895) (2010.85,34.900) (2010.92,34.884) (2011.00,34.900) (2011.10,34.878) (2011.21,34.884) (2011.31,34.892) (2011.42,34.960) (2011.53,34.922) (2011.60,34.900) (2011.71,34.911) (2011.81,34.895) (2011.92,34.884) (2012.02,34.884) (2012.13,34.895) (2012.24,34.938) (2012.34,34.911) (2012.45,34.900) (2012.56,34.884) (2012.63,34.895) (2012.70,34.878) (2012.81,34.905) (2012.91,34.933) (2013.02,34.922) (2013.13,34.905) (2013.23,34.884) (2013.34,34.895) (2013.45,34.878) (2013.55,34.895) (2013.62,34.900) (2013.69,34.867) (2013.80,34.905) (2013.87,34.895) (2013.94,34.873) (2014.05,34.911) (2014.16,34.895) (2014.23,34.889) (2014.38,34.895) (2014.48,34.873) (2014.59,34.884) (2014.71,34.843) (2014.87,34.851) (2015.01,34.867) (2015.23,34.897) (2015.40,34.895) (2015.51,34.878) (2015.65,34.870) (2015.79,34.867) (2015.94,34.873) (2016.08,34.873) (2016.22,34.878) (2016.36,34.867) (2016.50,34.862) (2016.61,34.851) (2016.79,34.856) (2016.93,34.859) (2017.04,34.870) (2017.14,34.856) (2017.28,34.853) (2017.35,34.859) (2017.50,34.851) (2017.60,34.834) (2017.71,34.829) (2017.85,34.826) (2017.96,34.829) (2018.06,34.851) (2018.21,34.856) (2018.35,34.862) (2018.49,34.867) (2018.63,34.867) (2018.74,34.864) (2018.84,34.845) (2018.98,34.840) (2019.13,34.834) (2019.27,34.834) (2019.41,34.823) (2019.52,34.813) (2019.64,34.799)};

% black-outlined series
\addplot[blk] table {\rtSblack};
\addplot[sol, cb] table {\rtSblack};
\addplot[blk] table {\ibSblack};
\addplot[sol, co] table {\ibSblack};
\addplot[blk] table {\isSblack};
\addplot[sol, cg] table {\isSblack};

\fill[white, opacity=0.6] (axis cs:2004.11,35.411) rectangle (axis cs:2005.05,35.507);
\node[text=txt, font=\fontsize{10}{12}\selectfont] at (axis cs:2004.57,35.476) {(a)};
\node[lab] at (axis cs:2002.47,35.155) {salinity [PSU]};
\node[side, text=cb] at (axis cs:2019.64,35.296) {Rockall Trough};
\node[side, text=co] at (axis cs:2019.64,35.016) {Iceland Basin};
\node[side, text=cg] at (axis cs:2019.64,34.856) {Irminger Sea};
\end{axis}

% ---------------- (b) potential temperature ----------------
\begin{axis}[panel, at={(1.955cm,1.248cm)}, height=4.741cm,
  ymin=3.16, ymax=12.27, ytick={4,6,8,10,12},
  xticklabel style={xshift=-0.22cm, yshift=-0.3cm, rotate=30, anchor=north east}]

% bands: upper edge left to right, then lower edge right to left
\addplot[band, fill=cb] coordinates {(2004.11,11.07) (2004.20,10.82) (2004.29,10.56) (2004.38,10.75) (2004.48,10.94) (2004.62,11.07) (2004.73,11.38) (2004.84,11.32) (2004.95,11.25) (2005.05,10.69) (2005.19,10.50) (2005.34,10.56) (2005.48,10.94) (2005.62,11.19) (2005.73,11.57) (2005.80,11.72) (2005.90,11.50) (2006.01,11.13) (2006.15,10.75) (2006.30,10.69) (2006.44,10.94) (2006.54,11.38) (2006.63,11.66) (2006.76,11.57) (2006.83,11.63) (2006.93,11.32) (2007.08,11.13) (2007.18,11.07) (2007.29,10.75) (2007.39,11.13) (2007.54,11.38) (2007.68,11.57) (2007.82,11.72) (2007.93,11.76) (2008.04,11.32) (2008.18,10.75) (2008.28,10.69) (2008.43,11.19) (2008.57,11.50) (2008.64,11.69) (2008.78,11.63) (2008.89,11.69) (2009.03,11.19) (2009.17,10.94) (2009.28,10.56) (2009.36,10.82) (2009.47,11.07) (2009.57,11.63) (2009.68,11.72) (2009.82,11.82) (2009.93,11.79) (2010.04,11.32) (2010.14,10.75) (2010.25,10.63) (2010.39,10.94) (2010.53,11.13) (2010.67,11.32) (2010.82,11.38) (2010.96,11.19) (2011.10,11.00) (2011.24,10.82) (2011.39,11.07) (2011.56,11.25) (2011.71,11.38) (2011.81,11.44) (2011.95,11.19) (2012.10,10.88) (2012.24,10.82) (2012.38,11.00) (2012.52,11.13) (2012.66,11.00) (2012.81,11.13) (2012.95,10.88) (2013.09,10.69) (2013.20,11.25) (2013.34,10.94) (2013.48,11.19) (2013.66,11.13) (2013.80,11.25) (2013.91,10.94) (2014.05,10.69) (2014.16,10.56) (2014.23,10.94) (2014.38,10.82) (2014.52,11.07) (2014.66,11.22) (2014.80,11.19) (2014.94,11.07) (2015.08,10.75) (2015.19,10.25) (2015.30,10.13) (2015.40,10.44) (2015.55,10.75) (2015.69,10.94) (2015.79,11.07) (2015.90,10.75) (2016.04,10.56) (2016.18,10.25) (2016.33,10.13) (2016.47,10.44) (2016.61,10.75) (2016.75,11.00) (2016.86,11.25) (2016.96,11.32) (2017.07,11.00) (2017.21,10.63) (2017.32,10.69) (2017.43,11.00) (2017.57,11.25) (2017.67,11.29) (2017.78,11.13) (2017.92,11.00) (2018.06,10.31) (2018.17,10.06) (2018.31,10.19) (2018.42,10.69) (2018.56,11.00) (2018.70,11.07) (2018.81,11.13) (2018.98,11.07) (2019.09,10.56) (2019.20,10.50) (2019.34,10.69) (2019.48,10.94) (2019.64,11.00)
 (2019.64,9.75) (2019.55,9.75) (2019.41,9.56) (2019.27,9.18) (2019.13,9.25) (2018.98,9.56) (2018.84,9.69) (2018.70,9.62) (2018.56,9.50) (2018.42,9.12) (2018.28,8.81) (2018.13,8.93) (2017.99,9.31) (2017.85,9.62) (2017.71,9.69) (2017.57,9.56) (2017.43,9.37) (2017.32,9.31) (2017.21,9.44) (2017.07,9.50) (2016.93,9.62) (2016.79,9.56) (2016.65,9.44) (2016.50,9.25) (2016.36,9.00) (2016.22,8.93) (2016.08,9.18) (2015.97,9.50) (2015.83,9.62) (2015.69,9.56) (2015.55,9.25) (2015.40,9.00) (2015.30,8.87) (2015.19,9.06) (2015.08,9.44) (2014.94,9.75) (2014.80,9.81) (2014.66,9.81) (2014.52,9.69) (2014.38,9.37) (2014.23,9.25) (2014.19,9.19) (2014.09,9.31) (2013.94,9.56) (2013.80,9.87) (2013.66,9.81) (2013.52,9.69) (2013.37,9.56) (2013.23,9.37) (2013.09,9.62) (2012.95,9.81) (2012.81,9.94) (2012.66,9.94) (2012.49,9.81) (2012.34,9.69) (2012.20,9.50) (2012.10,9.56) (2011.95,9.87) (2011.81,10.19) (2011.67,10.06) (2011.53,9.87) (2011.39,9.62) (2011.24,9.44) (2011.10,9.69) (2010.96,9.94) (2010.82,10.13) (2010.67,10.06) (2010.50,9.75) (2010.36,9.56) (2010.21,9.37) (2010.14,9.56) (2010.00,9.94) (2009.89,10.25) (2009.79,10.19) (2009.68,9.94) (2009.57,9.44) (2009.47,9.50) (2009.36,9.56) (2009.28,9.34) (2009.17,9.56) (2009.03,9.81) (2008.89,10.06) (2008.75,10.19) (2008.60,10.13) (2008.46,9.94) (2008.32,9.69) (2008.21,9.50) (2008.07,9.94) (2007.96,10.25) (2007.86,10.38) (2007.71,10.19) (2007.57,9.94) (2007.43,9.75) (2007.29,9.56) (2007.18,9.69) (2007.04,9.94) (2006.90,10.06) (2006.76,10.13) (2006.61,10.06) (2006.47,9.81) (2006.33,9.62) (2006.22,9.50) (2006.12,9.69) (2005.98,9.75) (2005.83,9.81) (2005.69,10.00) (2005.55,9.87) (2005.44,9.56) (2005.34,9.37) (2005.23,9.28) (2005.12,9.62) (2005.02,9.87) (2004.91,10.06) (2004.77,10.19) (2004.62,10.06) (2004.48,9.75) (2004.38,9.50) (2004.29,9.31) (2004.20,9.62) (2004.11,9.81)};
\addplot[band, fill=co] coordinates {(2004.11,8.69) (2004.23,8.82) (2004.34,9.01) (2004.45,9.13) (2004.55,9.26) (2004.70,9.44) (2004.84,9.44) (2004.95,9.38) (2005.05,9.07) (2005.12,8.82) (2005.23,8.57) (2005.34,8.82) (2005.48,9.07) (2005.59,9.44) (2005.69,9.88) (2005.76,9.88) (2005.87,9.63) (2006.01,9.51) (2006.12,9.32) (2006.19,9.07) (2006.30,8.76) (2006.40,9.07) (2006.51,9.51) (2006.61,9.88) (2006.69,9.95) (2006.79,9.76) (2006.90,9.38) (2007.00,9.07) (2007.11,8.69) (2007.22,8.63) (2007.36,8.82) (2007.50,9.01) (2007.61,9.19) (2007.71,9.41) (2007.82,9.38) (2007.93,9.19) (2008.04,8.88) (2008.14,8.69) (2008.28,8.50) (2008.39,8.57) (2008.50,8.88) (2008.64,9.07) (2008.75,9.26) (2008.85,9.01) (2008.96,8.82) (2009.07,8.69) (2009.17,8.63) (2009.28,8.50) (2009.36,8.76) (2009.47,8.94) (2009.57,9.07) (2009.72,9.19) (2009.82,9.23) (2009.93,8.94) (2010.04,8.69) (2010.14,8.44) (2010.25,8.32) (2010.36,8.50) (2010.46,8.76) (2010.57,8.94) (2010.67,9.26) (2010.75,9.44) (2010.85,9.41) (2010.96,9.19) (2011.07,8.76) (2011.17,8.44) (2011.28,8.00) (2011.39,8.19) (2011.49,8.44) (2011.60,8.69) (2011.71,8.88) (2011.81,8.82) (2011.92,8.69) (2012.02,8.44) (2012.13,8.13) (2012.24,8.00) (2012.34,8.07) (2012.45,8.38) (2012.59,8.69) (2012.74,8.88) (2012.84,8.82) (2012.95,8.57) (2013.09,8.44) (2013.20,8.38) (2013.30,8.50) (2013.45,8.69) (2013.55,8.94) (2013.69,9.32) (2013.77,9.41) (2013.87,9.07) (2013.98,8.69) (2014.09,8.26) (2014.19,7.88) (2014.30,7.88) (2014.38,8.07) (2014.45,8.44) (2014.55,8.82) (2014.66,8.94) (2014.77,9.07) (2014.87,8.94) (2014.98,8.57) (2015.08,8.07) (2015.19,7.56) (2015.30,7.19) (2015.40,7.31) (2015.55,7.75) (2015.69,8.13) (2015.79,8.26) (2015.90,8.13) (2016.01,7.81) (2016.11,7.44) (2016.22,7.26) (2016.33,7.31) (2016.43,7.63) (2016.57,8.00) (2016.72,8.19) (2016.82,8.13) (2016.93,7.88) (2017.04,7.63) (2017.14,7.44) (2017.25,7.69) (2017.35,8.07) (2017.50,8.57) (2017.64,8.88) (2017.74,8.94) (2017.85,8.82) (2017.96,8.44) (2018.06,8.07) (2018.17,7.81) (2018.28,7.94) (2018.42,8.19) (2018.56,8.32) (2018.70,8.50) (2018.84,8.32) (2018.98,8.07) (2019.13,7.88) (2019.27,7.69) (2019.38,7.94) (2019.48,8.19) (2019.64,8.50)
 (2019.64,7.98) (2019.48,7.67) (2019.38,7.42) (2019.27,7.17) (2019.13,7.36) (2018.98,7.55) (2018.84,7.80) (2018.70,7.98) (2018.56,7.80) (2018.42,7.67) (2018.28,7.42) (2018.17,7.29) (2018.06,7.55) (2017.96,7.92) (2017.85,8.30) (2017.74,8.42) (2017.64,8.36) (2017.50,8.05) (2017.35,7.55) (2017.25,7.17) (2017.14,6.92) (2017.04,7.11) (2016.93,7.36) (2016.82,7.61) (2016.72,7.67) (2016.57,7.48) (2016.43,7.11) (2016.33,6.79) (2016.22,6.74) (2016.11,6.92) (2016.01,7.29) (2015.90,7.61) (2015.79,7.74) (2015.69,7.61) (2015.55,7.23) (2015.40,6.79) (2015.30,6.67) (2015.19,7.04) (2015.08,7.55) (2014.98,8.05) (2014.87,8.42) (2014.77,8.55) (2014.66,8.42) (2014.55,8.30) (2014.45,7.92) (2014.38,7.55) (2014.30,7.36) (2014.19,7.36) (2014.09,7.74) (2013.98,8.17) (2013.87,8.55) (2013.77,8.89) (2013.69,8.80) (2013.55,8.42) (2013.45,8.17) (2013.30,7.98) (2013.20,7.86) (2013.09,7.92) (2012.95,8.05) (2012.84,8.30) (2012.74,8.36) (2012.59,8.17) (2012.45,7.86) (2012.34,7.55) (2012.24,7.48) (2012.13,7.61) (2012.02,7.92) (2011.92,8.17) (2011.81,8.30) (2011.71,8.36) (2011.60,8.17) (2011.49,7.92) (2011.39,7.67) (2011.28,7.48) (2011.17,7.92) (2011.07,8.24) (2010.96,8.67) (2010.85,8.89) (2010.75,8.92) (2010.67,8.74) (2010.57,8.42) (2010.46,8.24) (2010.36,7.98) (2010.25,7.80) (2010.14,7.92) (2010.04,8.17) (2009.93,8.42) (2009.82,8.71) (2009.72,8.67) (2009.57,8.55) (2009.47,8.42) (2009.36,8.24) (2009.28,7.98) (2009.17,8.11) (2009.07,8.17) (2008.96,8.30) (2008.85,8.49) (2008.75,8.74) (2008.64,8.55) (2008.50,8.36) (2008.39,8.05) (2008.28,7.98) (2008.14,8.17) (2008.04,8.36) (2007.93,8.67) (2007.82,8.86) (2007.71,8.89) (2007.61,8.67) (2007.50,8.49) (2007.36,8.30) (2007.22,8.11) (2007.11,8.17) (2007.00,8.55) (2006.90,8.86) (2006.79,9.24) (2006.69,9.43) (2006.61,9.36) (2006.51,8.99) (2006.40,8.55) (2006.30,8.24) (2006.19,8.55) (2006.12,8.80) (2006.01,8.99) (2005.87,9.11) (2005.76,9.36) (2005.69,9.36) (2005.59,8.92) (2005.48,8.55) (2005.34,8.30) (2005.23,8.05) (2005.12,8.30) (2005.05,8.55) (2004.95,8.86) (2004.84,8.92) (2004.70,8.92) (2004.55,8.74) (2004.45,8.61) (2004.34,8.49) (2004.23,8.30) (2004.11,8.17)};
\addplot[band, fill=cg] coordinates {(2004.11,7.02) (2004.20,6.90) (2004.27,6.77) (2004.34,6.52) (2004.45,7.08) (2004.55,7.27) (2004.66,7.27) (2004.77,7.15) (2004.87,7.02) (2004.98,6.77) (2005.09,6.52) (2005.19,6.33) (2005.30,6.27) (2005.41,6.58) (2005.51,6.96) (2005.62,7.52) (2005.73,7.40) (2005.83,7.27) (2005.94,7.09) (2006.05,6.83) (2006.15,6.65) (2006.26,6.52) (2006.37,6.77) (2006.47,7.21) (2006.58,7.52) (2006.69,7.71) (2006.79,7.59) (2006.90,7.27) (2007.00,6.96) (2007.11,6.58) (2007.22,6.52) (2007.32,6.58) (2007.43,6.90) (2007.54,7.15) (2007.64,7.34) (2007.75,7.40) (2007.86,7.27) (2007.96,7.09) (2008.07,6.71) (2008.18,6.21) (2008.28,6.08) (2008.39,6.40) (2008.50,6.77) (2008.60,7.02) (2008.71,6.90) (2008.82,6.77) (2008.92,6.58) (2009.03,6.33) (2009.14,6.14) (2009.24,6.02) (2009.36,6.08) (2009.47,6.14) (2009.57,6.33) (2009.68,6.52) (2009.79,6.71) (2009.89,6.83) (2010.00,6.96) (2010.11,6.71) (2010.21,6.46) (2010.32,6.27) (2010.43,6.52) (2010.53,6.77) (2010.67,7.02) (2010.78,7.15) (2010.85,7.34) (2010.92,7.27) (2011.03,6.96) (2011.14,6.52) (2011.24,6.33) (2011.39,6.40) (2011.53,6.65) (2011.67,6.83) (2011.78,6.77) (2011.88,6.65) (2011.99,6.14) (2012.10,5.83) (2012.20,5.70) (2012.31,5.89) (2012.42,6.21) (2012.52,6.46) (2012.63,6.58) (2012.74,6.71) (2012.84,6.58) (2012.95,6.33) (2013.05,6.02) (2013.16,5.89) (2013.30,5.96) (2013.45,6.14) (2013.55,6.46) (2013.66,6.77) (2013.77,6.90) (2013.87,6.83) (2013.98,6.46) (2014.12,6.14) (2014.23,5.89) (2014.34,5.83) (2014.45,6.14) (2014.55,6.33) (2014.66,6.40) (2014.77,6.58) (2014.87,6.46) (2014.98,6.02) (2015.08,5.58) (2015.19,5.27) (2015.30,5.14) (2015.40,5.27) (2015.55,5.52) (2015.65,5.83) (2015.76,5.89) (2015.87,5.77) (2016.01,5.52) (2016.11,5.33) (2016.22,5.20) (2016.36,5.33) (2016.50,5.58) (2016.61,5.58) (2016.75,5.52) (2016.89,5.39) (2017.04,5.27) (2017.21,5.14) (2017.32,5.27) (2017.43,5.58) (2017.53,5.89) (2017.64,6.08) (2017.74,6.14) (2017.85,6.08) (2017.96,6.02) (2018.06,5.77) (2018.17,5.52) (2018.28,5.46) (2018.38,5.58) (2018.52,5.89) (2018.66,6.08) (2018.81,5.96) (2018.94,5.71) (2019.09,5.46) (2019.23,5.14) (2019.34,5.33) (2019.45,5.71) (2019.55,5.96) (2019.64,6.08)
 (2019.64,5.64) (2019.55,5.52) (2019.45,5.27) (2019.34,4.89) (2019.23,4.70) (2019.09,5.02) (2018.94,5.27) (2018.81,5.52) (2018.66,5.64) (2018.52,5.45) (2018.38,5.14) (2018.28,5.02) (2018.17,5.08) (2018.06,5.33) (2017.96,5.58) (2017.85,5.64) (2017.74,5.70) (2017.64,5.64) (2017.53,5.45) (2017.43,5.14) (2017.32,4.83) (2017.21,4.70) (2017.04,4.83) (2016.89,4.95) (2016.75,5.08) (2016.61,5.14) (2016.50,5.14) (2016.36,4.89) (2016.22,4.76) (2016.11,4.89) (2016.01,5.08) (2015.87,5.33) (2015.76,5.45) (2015.65,5.39) (2015.55,5.08) (2015.40,4.83) (2015.30,4.70) (2015.19,4.83) (2015.08,5.14) (2014.98,5.58) (2014.87,6.02) (2014.77,6.14) (2014.66,5.96) (2014.55,5.89) (2014.45,5.70) (2014.34,5.39) (2014.23,5.45) (2014.12,5.70) (2013.98,6.02) (2013.87,6.39) (2013.77,6.46) (2013.66,6.33) (2013.55,6.02) (2013.45,5.70) (2013.30,5.52) (2013.16,5.45) (2013.05,5.58) (2012.95,5.89) (2012.84,6.14) (2012.74,6.27) (2012.63,6.14) (2012.52,6.02) (2012.42,5.77) (2012.31,5.45) (2012.20,5.26) (2012.10,5.39) (2011.99,5.70) (2011.88,6.21) (2011.78,6.33) (2011.67,6.39) (2011.53,6.21) (2011.39,5.96) (2011.24,5.89) (2011.14,6.08) (2011.03,6.52) (2010.92,6.83) (2010.85,6.90) (2010.78,6.71) (2010.67,6.58) (2010.53,6.33) (2010.43,6.08) (2010.32,5.83) (2010.21,6.02) (2010.11,6.27) (2010.00,6.52) (2009.89,6.39) (2009.79,6.27) (2009.68,6.08) (2009.57,5.89) (2009.47,5.70) (2009.36,5.64) (2009.24,5.58) (2009.14,5.70) (2009.03,5.89) (2008.92,6.14) (2008.82,6.33) (2008.71,6.46) (2008.60,6.58) (2008.50,6.33) (2008.39,5.96) (2008.28,5.64) (2008.18,5.77) (2008.07,6.27) (2007.96,6.65) (2007.86,6.83) (2007.75,6.96) (2007.64,6.90) (2007.54,6.71) (2007.43,6.46) (2007.32,6.14) (2007.22,6.08) (2007.11,6.14) (2007.00,6.52) (2006.90,6.83) (2006.79,7.15) (2006.69,7.27) (2006.58,7.08) (2006.47,6.77) (2006.37,6.33) (2006.26,6.08) (2006.15,6.21) (2006.05,6.39) (2005.94,6.65) (2005.83,6.83) (2005.73,6.96) (2005.62,7.08) (2005.51,6.52) (2005.41,6.14) (2005.30,5.83) (2005.19,5.89) (2005.09,6.08) (2004.98,6.33) (2004.87,6.58) (2004.77,6.71) (2004.66,6.83) (2004.55,6.83) (2004.45,6.64) (2004.34,6.08) (2004.27,6.33) (2004.20,6.46) (2004.11,6.58)};

% dashed lines
\addplot[das, cb] coordinates {(2004.11,10.50) (2004.20,10.13) (2004.29,9.87) (2004.38,10.13) (2004.48,10.31) (2004.62,10.56) (2004.77,10.82) (2004.87,10.85) (2004.98,10.50) (2005.09,10.06) (2005.19,9.78) (2005.30,9.81) (2005.41,10.06) (2005.51,10.31) (2005.62,10.50) (2005.73,10.75) (2005.80,11.07) (2005.87,11.00) (2005.98,10.63) (2006.08,10.38) (2006.19,10.06) (2006.30,10.00) (2006.40,10.13) (2006.51,10.44) (2006.61,10.94) (2006.69,11.00) (2006.79,10.91) (2006.86,10.63) (2006.93,10.50) (2007.04,10.38) (2007.11,10.19) (2007.22,10.00) (2007.29,9.94) (2007.39,10.25) (2007.54,10.56) (2007.68,10.82) (2007.82,11.07) (2007.93,11.07) (2008.00,10.94) (2008.11,10.50) (2008.21,10.00) (2008.32,10.19) (2008.43,10.50) (2008.57,10.82) (2008.64,11.00) (2008.75,11.00) (2008.85,10.82) (2008.96,10.31) (2009.10,10.13) (2009.24,9.87) (2009.36,10.06) (2009.47,10.50) (2009.57,10.88) (2009.68,11.07) (2009.82,11.16) (2009.93,11.13) (2010.04,10.50) (2010.11,10.06) (2010.21,9.94) (2010.32,10.19) (2010.43,10.38) (2010.53,10.50) (2010.67,10.69) (2010.78,10.75) (2010.89,10.63) (2011.00,10.44) (2011.10,10.25) (2011.21,10.06) (2011.31,10.00) (2011.42,10.31) (2011.53,10.50) (2011.67,10.56) (2011.81,10.78) (2011.88,10.69) (2011.99,10.19) (2012.10,10.00) (2012.20,9.94) (2012.31,10.19) (2012.42,10.31) (2012.52,10.38) (2012.63,10.41) (2012.74,10.44) (2012.84,10.44) (2012.95,10.31) (2013.05,10.19) (2013.16,10.00) (2013.23,9.87) (2013.30,10.00) (2013.41,10.19) (2013.52,10.38) (2013.66,10.56) (2013.77,10.69) (2013.87,10.44) (2013.98,10.13) (2014.09,9.87) (2014.19,9.69) (2014.34,9.75) (2014.45,9.94) (2014.55,10.25) (2014.66,10.38) (2014.77,10.50) (2014.87,10.56) (2014.98,10.38) (2015.05,10.06) (2015.16,9.75) (2015.26,9.50) (2015.37,9.44) (2015.48,9.62) (2015.58,9.87) (2015.69,10.13) (2015.79,10.31) (2015.90,10.19) (2016.01,9.94) (2016.15,9.75) (2016.26,9.62) (2016.36,9.56) (2016.50,9.62) (2016.61,9.94) (2016.72,10.19) (2016.82,10.50) (2016.93,10.63) (2017.04,10.50) (2017.14,10.19) (2017.25,9.81) (2017.35,9.81) (2017.43,10.06) (2017.53,10.44) (2017.64,10.63) (2017.74,10.66) (2017.85,10.50) (2017.96,10.31) (2018.06,9.94) (2018.17,9.62) (2018.28,9.25) (2018.38,9.56) (2018.49,9.87) (2018.63,10.19) (2018.74,10.38) (2018.84,10.44) (2018.98,10.38) (2019.09,9.81) (2019.20,9.75) (2019.30,9.81) (2019.41,10.06) (2019.55,10.34) (2019.64,10.38)};
\addplot[das, co] coordinates {(2004.11,8.43) (2004.23,8.56) (2004.34,8.75) (2004.45,8.87) (2004.55,9.00) (2004.70,9.18) (2004.84,9.18) (2004.95,9.12) (2005.05,8.81) (2005.12,8.56) (2005.23,8.31) (2005.34,8.56) (2005.48,8.81) (2005.59,9.18) (2005.69,9.62) (2005.76,9.62) (2005.87,9.37) (2006.01,9.25) (2006.12,9.06) (2006.19,8.81) (2006.30,8.50) (2006.40,8.81) (2006.51,9.25) (2006.61,9.62) (2006.69,9.69) (2006.79,9.50) (2006.90,9.12) (2007.00,8.81) (2007.11,8.43) (2007.22,8.37) (2007.36,8.56) (2007.50,8.75) (2007.61,8.93) (2007.71,9.15) (2007.82,9.12) (2007.93,8.93) (2008.04,8.62) (2008.14,8.43) (2008.28,8.24) (2008.39,8.31) (2008.50,8.62) (2008.64,8.81) (2008.75,9.00) (2008.85,8.75) (2008.96,8.56) (2009.07,8.43) (2009.17,8.37) (2009.28,8.24) (2009.36,8.50) (2009.47,8.68) (2009.57,8.81) (2009.72,8.93) (2009.82,8.97) (2009.93,8.68) (2010.04,8.43) (2010.14,8.18) (2010.25,8.06) (2010.36,8.24) (2010.46,8.50) (2010.57,8.68) (2010.67,9.00) (2010.75,9.18) (2010.85,9.15) (2010.96,8.93) (2011.07,8.50) (2011.17,8.18) (2011.28,7.74) (2011.39,7.93) (2011.49,8.18) (2011.60,8.43) (2011.71,8.62) (2011.81,8.56) (2011.92,8.43) (2012.02,8.18) (2012.13,7.87) (2012.24,7.74) (2012.34,7.81) (2012.45,8.12) (2012.59,8.43) (2012.74,8.62) (2012.84,8.56) (2012.95,8.31) (2013.09,8.18) (2013.20,8.12) (2013.30,8.24) (2013.45,8.43) (2013.55,8.68) (2013.69,9.06) (2013.77,9.15) (2013.87,8.81) (2013.98,8.43) (2014.09,8.00) (2014.19,7.62) (2014.30,7.62) (2014.38,7.81) (2014.45,8.18) (2014.55,8.56) (2014.66,8.68) (2014.77,8.81) (2014.87,8.68) (2014.98,8.31) (2015.08,7.81) (2015.19,7.30) (2015.30,6.93) (2015.40,7.05) (2015.55,7.49) (2015.69,7.87) (2015.79,8.00) (2015.90,7.87) (2016.01,7.55) (2016.11,7.18) (2016.22,7.00) (2016.33,7.05) (2016.43,7.37) (2016.57,7.74) (2016.72,7.93) (2016.82,7.87) (2016.93,7.62) (2017.04,7.37) (2017.14,7.18) (2017.25,7.43) (2017.35,7.81) (2017.50,8.31) (2017.64,8.62) (2017.74,8.68) (2017.85,8.56) (2017.96,8.18) (2018.06,7.81) (2018.17,7.55) (2018.28,7.68) (2018.42,7.93) (2018.56,8.06) (2018.70,8.24) (2018.84,8.06) (2018.98,7.81) (2019.13,7.62) (2019.27,7.43) (2019.38,7.68) (2019.48,7.93) (2019.64,8.24)};
\addplot[das, cg] coordinates {(2004.11,6.80) (2004.20,6.68) (2004.27,6.55) (2004.34,6.30) (2004.45,6.86) (2004.55,7.05) (2004.66,7.05) (2004.77,6.93) (2004.87,6.80) (2004.98,6.55) (2005.09,6.30) (2005.19,6.11) (2005.30,6.05) (2005.41,6.36) (2005.51,6.74) (2005.62,7.30) (2005.73,7.18) (2005.83,7.05) (2005.94,6.87) (2006.05,6.61) (2006.15,6.43) (2006.26,6.30) (2006.37,6.55) (2006.47,6.99) (2006.58,7.30) (2006.69,7.49) (2006.79,7.37) (2006.90,7.05) (2007.00,6.74) (2007.11,6.36) (2007.22,6.30) (2007.32,6.36) (2007.43,6.68) (2007.54,6.93) (2007.64,7.12) (2007.75,7.18) (2007.86,7.05) (2007.96,6.87) (2008.07,6.49) (2008.18,5.99) (2008.28,5.86) (2008.39,6.18) (2008.50,6.55) (2008.60,6.80) (2008.71,6.68) (2008.82,6.55) (2008.92,6.36) (2009.03,6.11) (2009.14,5.92) (2009.24,5.80) (2009.36,5.86) (2009.47,5.92) (2009.57,6.11) (2009.68,6.30) (2009.79,6.49) (2009.89,6.61) (2010.00,6.74) (2010.11,6.49) (2010.21,6.24) (2010.32,6.05) (2010.43,6.30) (2010.53,6.55) (2010.67,6.80) (2010.78,6.93) (2010.85,7.12) (2010.92,7.05) (2011.03,6.74) (2011.14,6.30) (2011.24,6.11) (2011.39,6.18) (2011.53,6.43) (2011.67,6.61) (2011.78,6.55) (2011.88,6.43) (2011.99,5.92) (2012.10,5.61) (2012.20,5.48) (2012.31,5.67) (2012.42,5.99) (2012.52,6.24) (2012.63,6.36) (2012.74,6.49) (2012.84,6.36) (2012.95,6.11) (2013.05,5.80) (2013.16,5.67) (2013.30,5.74) (2013.45,5.92) (2013.55,6.24) (2013.66,6.55) (2013.77,6.68) (2013.87,6.61) (2013.98,6.24) (2014.12,5.92) (2014.23,5.67) (2014.34,5.61) (2014.45,5.92) (2014.55,6.11) (2014.66,6.18) (2014.77,6.36) (2014.87,6.24) (2014.98,5.80) (2015.08,5.36) (2015.19,5.05) (2015.30,4.92) (2015.40,5.05) (2015.55,5.30) (2015.65,5.61) (2015.76,5.67) (2015.87,5.55) (2016.01,5.30) (2016.11,5.11) (2016.22,4.98) (2016.36,5.11) (2016.50,5.36) (2016.61,5.36) (2016.75,5.30) (2016.89,5.17) (2017.04,5.05) (2017.21,4.92) (2017.32,5.05) (2017.43,5.36) (2017.53,5.67) (2017.64,5.86) (2017.74,5.92) (2017.85,5.86) (2017.96,5.80) (2018.06,5.55) (2018.17,5.30) (2018.28,5.24) (2018.38,5.36) (2018.52,5.67) (2018.66,5.86) (2018.81,5.74) (2018.94,5.49) (2019.09,5.24) (2019.23,4.92) (2019.34,5.11) (2019.45,5.49) (2019.55,5.74) (2019.64,5.86)};

% solid lines
\addplot[sol, cb] coordinates {(2004.11,10.28) (2004.20,10.09) (2004.27,9.87) (2004.36,10.09) (2004.48,10.25) (2004.59,10.44) (2004.66,10.63) (2004.77,10.85) (2004.87,10.78) (2004.98,10.50) (2005.09,10.13) (2005.19,9.78) (2005.30,9.81) (2005.44,10.00) (2005.55,10.19) (2005.66,10.41) (2005.73,10.56) (2005.87,10.22) (2005.98,10.44) (2006.12,10.09) (2006.22,9.91) (2006.33,9.94) (2006.47,10.19) (2006.61,10.56) (2006.76,10.53) (2006.90,10.44) (2007.04,10.31) (2007.18,10.13) (2007.29,10.16) (2007.39,10.38) (2007.54,10.63) (2007.68,10.82) (2007.82,10.97) (2007.93,10.88) (2008.04,10.50) (2008.18,10.25) (2008.28,10.16) (2008.39,10.44) (2008.53,10.69) (2008.67,10.97) (2008.78,11.03) (2008.89,10.78) (2009.03,10.44) (2009.17,10.22) (2009.25,10.16) (2009.36,10.25) (2009.47,10.50) (2009.57,10.69) (2009.68,10.75) (2009.79,10.88) (2009.89,10.69) (2010.00,10.44) (2010.11,10.19) (2010.18,10.16) (2010.28,10.38) (2010.39,10.56) (2010.50,10.75) (2010.60,10.94) (2010.71,11.00) (2010.82,10.88) (2010.96,10.63) (2011.10,10.44) (2011.24,10.28) (2011.39,10.50) (2011.53,10.82) (2011.67,11.13) (2011.78,11.25) (2011.88,11.07) (2011.99,10.69) (2012.10,10.44) (2012.24,10.25) (2012.34,10.44) (2012.45,10.56) (2012.59,10.75) (2012.70,10.91) (2012.81,10.88) (2012.91,10.75) (2013.02,10.56) (2013.13,10.31) (2013.27,10.16) (2013.37,10.31) (2013.52,10.50) (2013.66,10.69) (2013.80,10.69) (2013.87,10.50) (2013.98,10.38) (2014.12,10.38) (2014.23,10.34) (2014.38,10.38) (2014.52,10.75) (2014.62,11.00) (2014.77,11.10) (2014.87,11.00) (2014.98,10.82) (2015.08,10.44) (2015.19,10.00) (2015.30,9.87) (2015.40,9.87) (2015.51,10.06) (2015.62,10.25) (2015.72,10.38) (2015.83,10.44) (2015.94,10.25) (2016.04,10.06) (2016.15,10.00) (2016.29,9.94) (2016.40,9.87) (2016.47,10.06) (2016.57,10.25) (2016.68,10.50) (2016.79,10.69) (2016.89,10.82) (2017.00,10.94) (2017.07,10.69) (2017.18,10.13) (2017.28,10.00) (2017.39,10.44) (2017.50,10.75) (2017.60,10.97) (2017.71,11.03) (2017.82,11.00) (2017.92,10.75) (2018.03,10.44) (2018.13,10.06) (2018.21,9.81) (2018.31,9.94) (2018.42,10.19) (2018.56,10.50) (2018.67,10.75) (2018.77,11.03) (2018.88,10.75) (2018.98,10.56) (2019.09,10.44) (2019.20,10.47) (2019.30,10.56) (2019.41,10.63) (2019.52,10.82) (2019.64,10.97)};
\addplot[sol, co] coordinates {(2004.11,9.12) (2004.27,9.06) (2004.38,9.09) (2004.48,9.31) (2004.62,9.44) (2004.73,9.62) (2004.84,9.72) (2004.95,9.78) (2005.02,9.56) (2005.12,8.81) (2005.23,9.06) (2005.34,9.25) (2005.44,9.44) (2005.55,9.56) (2005.66,9.94) (2005.71,10.44) (2005.80,10.13) (2005.90,10.00) (2006.01,9.62) (2006.12,9.37) (2006.26,9.31) (2006.37,9.56) (2006.47,9.87) (2006.61,10.13) (2006.76,10.47) (2006.86,10.19) (2006.97,9.81) (2007.08,9.37) (2007.18,9.00) (2007.29,8.81) (2007.39,9.00) (2007.50,9.12) (2007.61,9.56) (2007.71,10.19) (2007.82,10.13) (2007.93,10.06) (2008.04,9.69) (2008.18,9.18) (2008.28,8.93) (2008.39,9.00) (2008.50,9.31) (2008.60,9.56) (2008.71,9.81) (2008.82,9.62) (2008.96,9.31) (2009.10,8.87) (2009.24,8.75) (2009.36,8.81) (2009.47,8.62) (2009.54,9.31) (2009.64,9.62) (2009.75,9.69) (2009.93,9.62) (2010.07,9.31) (2010.18,8.93) (2010.28,8.87) (2010.39,9.06) (2010.50,9.18) (2010.64,9.37) (2010.78,9.69) (2010.92,9.12) (2011.03,9.25) (2011.14,9.00) (2011.28,8.56) (2011.39,8.87) (2011.49,9.25) (2011.60,9.44) (2011.71,9.50) (2011.81,9.37) (2011.92,9.31) (2012.02,8.81) (2012.13,8.43) (2012.20,8.18) (2012.27,8.31) (2012.38,8.68) (2012.49,8.75) (2012.59,9.00) (2012.66,9.12) (2012.77,9.31) (2012.88,9.25) (2012.98,9.18) (2013.09,9.00) (2013.20,8.87) (2013.34,8.81) (2013.45,8.87) (2013.55,9.12) (2013.69,9.37) (2013.77,9.50) (2013.87,9.18) (2013.98,8.81) (2014.09,8.43) (2014.19,8.06) (2014.30,7.74) (2014.40,7.74) (2014.48,8.31) (2014.59,8.75) (2014.69,8.87) (2014.80,8.97) (2014.87,8.56) (2014.94,8.18) (2015.08,7.74) (2015.19,7.18) (2015.30,6.74) (2015.40,6.93) (2015.55,7.55) (2015.65,7.81) (2015.76,8.06) (2015.87,7.93) (2015.97,7.68) (2016.08,7.49) (2016.22,7.24) (2016.36,7.05) (2016.50,7.68) (2016.61,8.12) (2016.72,8.18) (2016.86,8.12) (2017.00,8.00) (2017.11,7.68) (2017.25,7.43) (2017.35,8.06) (2017.46,8.56) (2017.57,8.68) (2017.67,8.68) (2017.78,8.75) (2017.89,8.56) (2017.99,8.25) (2018.10,7.81) (2018.21,7.55) (2018.31,7.68) (2018.42,7.93) (2018.56,8.12) (2018.70,8.31) (2018.81,8.12) (2018.94,7.93) (2019.06,7.62) (2019.16,7.43) (2019.27,7.24) (2019.38,7.55) (2019.48,7.81) (2019.64,8.18)};
\addplot[sol, cg] coordinates {(2004.11,6.74) (2004.20,6.55) (2004.29,6.49) (2004.38,6.11) (2004.45,6.18) (2004.55,6.18) (2004.66,6.62) (2004.79,7.18) (2004.87,6.80) (2004.98,6.43) (2005.09,6.37) (2005.19,6.30) (2005.30,6.30) (2005.41,6.05) (2005.46,5.86) (2005.55,6.43) (2005.66,7.18) (2005.73,7.18) (2005.83,6.68) (2005.94,6.24) (2006.12,6.18) (2006.22,5.99) (2006.37,5.86) (2006.47,6.55) (2006.56,7.30) (2006.61,8.06) (2006.70,7.93) (2006.83,7.18) (2006.93,6.74) (2007.04,6.11) (2007.18,5.80) (2007.29,5.80) (2007.36,6.61) (2007.47,6.74) (2007.54,6.24) (2007.64,6.55) (2007.75,6.68) (2007.82,6.61) (2007.89,6.36) (2008.00,6.05) (2008.11,5.67) (2008.20,5.24) (2008.28,5.05) (2008.37,5.24) (2008.46,5.86) (2008.53,6.24) (2008.64,6.18) (2008.71,5.99) (2008.80,6.61) (2008.89,6.49) (2008.96,5.80) (2009.07,6.36) (2009.17,6.43) (2009.25,6.05) (2009.36,5.30) (2009.45,5.74) (2009.54,5.30) (2009.64,5.86) (2009.79,6.30) (2009.88,5.74) (2009.96,6.05) (2010.11,5.67) (2010.21,5.05) (2010.32,5.61) (2010.43,5.74) (2010.60,5.61) (2010.71,5.80) (2010.78,6.36) (2010.89,6.30) (2011.00,5.92) (2011.10,5.42) (2011.21,5.30) (2011.28,5.36) (2011.39,5.24) (2011.46,6.05) (2011.56,6.18) (2011.67,6.11) (2011.78,5.80) (2011.88,5.24) (2012.02,4.61) (2012.13,4.55) (2012.20,4.98) (2012.31,4.98) (2012.38,4.86) (2012.49,5.24) (2012.56,5.05) (2012.63,5.55) (2012.70,5.67) (2012.81,5.92) (2012.88,6.24) (2012.98,5.99) (2013.09,5.74) (2013.20,4.92) (2013.30,5.05) (2013.41,4.98) (2013.52,5.30) (2013.62,5.67) (2013.69,5.92) (2013.77,5.30) (2013.87,5.55) (2013.98,5.24) (2014.09,4.80) (2014.23,4.55) (2014.38,4.73) (2014.48,4.73) (2014.59,5.11) (2014.69,5.36) (2014.80,5.39) (2014.94,5.05) (2015.08,4.48) (2015.16,3.92) (2015.30,3.98) (2015.40,3.86) (2015.55,4.23) (2015.65,4.42) (2015.76,4.73) (2015.90,4.55) (2016.01,4.11) (2016.15,3.80) (2016.22,3.67) (2016.33,3.79) (2016.43,4.17) (2016.50,4.23) (2016.65,4.55) (2016.79,4.86) (2016.93,4.98) (2017.04,4.61) (2017.11,4.29) (2017.18,4.29) (2017.32,4.36) (2017.46,4.48) (2017.57,4.61) (2017.67,4.73) (2017.78,4.70) (2017.92,4.48) (2018.06,4.17) (2018.13,3.92) (2018.28,3.86) (2018.35,3.73) (2018.45,4.11) (2018.60,4.23) (2018.70,4.23) (2018.84,4.36) (2018.98,4.17) (2019.09,3.98) (2019.20,3.86) (2019.30,3.86) (2019.41,4.30) (2019.52,4.61) (2019.64,4.80)};

% black-outlined series
\addplot[blk] table {\rtTblack};
\addplot[sol, cb] table {\rtTblack};
\addplot[blk] table {\ibTblack};
\addplot[sol, co] table {\ibTblack};
\addplot[blk] table {\isTblack};
\addplot[sol, cg] table {\isTblack};

\fill[white, opacity=0.6] (axis cs:2004.11,10.63) rectangle (axis cs:2005.05,12.04);
\node[text=txt, font=\fontsize{10}{12}\selectfont] at (axis cs:2004.57,11.38) {(b)};
\node[lab] at (axis cs:2002.69,7.715) {potential temperature [°C]};
\node[side, text=cb] at (axis cs:2019.64,10.13) {Rockall Trough};
\node[side, text=co] at (axis cs:2019.64,6.09) {Iceland Basin};
\node[side, text=cg] at (axis cs:2019.64,4.27) {Irminger Sea};
\end{axis}
\end{tikzpicture}
\end{document}
